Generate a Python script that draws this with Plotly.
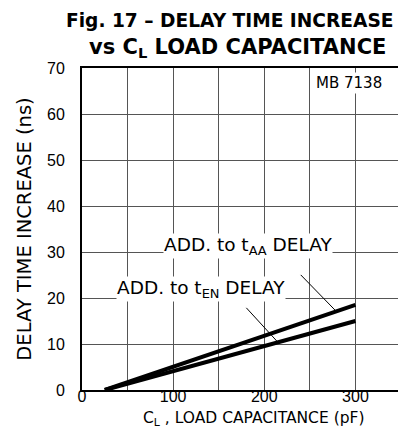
import numpy as np
import plotly.graph_objects as go

# Data
cap_pf = [25, 300]
add_taa = [0.0, 18.5]
add_ten = [0.0, 15.0]
x_ticks = [0, 100, 200, 300]
y_ticks = [0, 10, 20, 30, 40, 50, 60, 70]

FONT = "Liberation Sans, Arial, sans-serif"
WIDE = "DejaVu Sans, sans-serif"

fig = go.Figure()
fig.add_trace(go.Scatter(x=cap_pf, y=add_taa, mode="lines",
                         line=dict(color="black", width=4), showlegend=False))
fig.add_trace(go.Scatter(x=cap_pf, y=add_ten, mode="lines",
                         line=dict(color="black", width=4), showlegend=False))

# leader lines pointing at curves
x_aa = 279
y_aa = float(np.interp(x_aa, cap_pf, add_taa))
x_en = 215
y_en = float(np.interp(x_en, cap_pf, add_ten))
fig.add_annotation(x=x_aa, y=y_aa, text="", showarrow=True, arrowhead=0,
                   arrowwidth=1, arrowcolor="black", ax=-37, ay=-38)
fig.add_annotation(x=x_en, y=y_en, text="", showarrow=True, arrowhead=0,
                   arrowwidth=1, arrowcolor="black", ax=-33, ay=-36)

fig.add_annotation(x=182.5, y=31.4, xref="x", yref="y",
                   text="ADD. to t<sub>AA</sub> DELAY", showarrow=False,
                   bgcolor="white", font=dict(family=WIDE, size=18.5, color="black"),
                   borderpad=0)
fig.add_annotation(x=131, y=22.0, xref="x", yref="y",
                   text="ADD. to t<sub>EN</sub> DELAY", showarrow=False,
                   bgcolor="white", font=dict(family=WIDE, size=18.5, color="black"),
                   borderpad=0)
fig.add_annotation(x=293, y=66.7, xref="x", yref="y", text="MB 7138",
                   showarrow=False, bgcolor="white",
                   font=dict(family=WIDE, size=15, color="black"), borderpad=1)

# two-line title
fig.add_annotation(x=0.462, y=1.146, xref="paper", yref="paper",
                   text="<b>Fig. 17 – DELAY TIME INCREASE</b>", showarrow=False,
                   xanchor="center", yanchor="middle",
                   font=dict(family=WIDE, size=18.6, color="black"))
fig.add_annotation(x=0.487, y=1.062, xref="paper", yref="paper",
                   text="<b>vs C<sub>L</sub> LOAD CAPACITANCE</b>", showarrow=False,
                   xanchor="center", yanchor="middle",
                   font=dict(family=WIDE, size=21, color="black"))

# x-axis title (slightly right of centre in the original)
fig.add_annotation(x=0.538, y=-0.09, xref="paper", yref="paper",
                   text="C<sub>L</sub> , LOAD CAPACITANCE (pF)", showarrow=False,
                   xanchor="center", yanchor="middle",
                   font=dict(family=WIDE, size=15.5, color="black"))

fig.update_layout(
    width=406, height=437,
    margin=dict(l=74, r=11, t=60, b=55),
    paper_bgcolor="white", plot_bgcolor="white",
    font=dict(family=FONT, size=16, color="black"),
)
fig.update_xaxes(range=[0, 350], tickvals=x_ticks, showgrid=True,
                 gridcolor="#555", gridwidth=1,
                 minor=dict(dtick=50, tick0=0, showgrid=True, gridcolor="#555", gridwidth=1),
                 showline=True, linecolor="black", linewidth=2, mirror=True,
                 zeroline=False, ticks="", ticklabelstandoff=-9,
                 tickfont=dict(size=16))
fig.update_yaxes(range=[0, 70], tickvals=y_ticks, showgrid=True,
                 gridcolor="#555", gridwidth=1,
                 showline=True, linecolor="black", linewidth=2, mirror=True,
                 zeroline=False, ticks="", ticklabelstandoff=12,
                 title=dict(text="DELAY TIME INCREASE (ns)", standoff=10,
                            font=dict(family=WIDE, size=19.5)),
                 tickfont=dict(size=16))

fig.write_html("out.html")
